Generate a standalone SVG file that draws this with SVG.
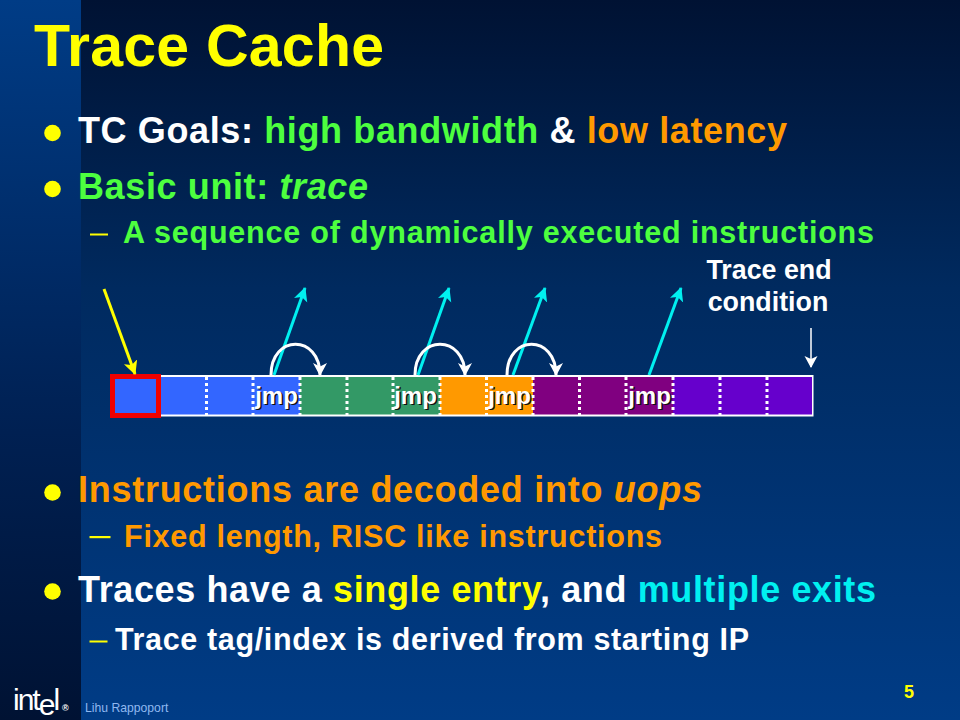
<svg xmlns="http://www.w3.org/2000/svg" width="960" height="720" viewBox="0 0 960 720">
<style>
text{font-family:"Liberation Sans",Arial,sans-serif;font-weight:bold}
.w{fill:#fff}.g{fill:#4dff3f}.o{fill:#ff9900}.y{fill:#ffff00}.c{fill:#00f0f0}
.l1{font-size:36px}.l2{font-size:30.500px}
.j{font-size:24px;fill:#fff;text-anchor:middle}
.js{font-size:24px;fill:#111;text-anchor:middle}
.sep{stroke:#fff;stroke-width:3;stroke-dasharray:3 3}
.cy{stroke:#00f0f0;stroke-width:3;fill:none;marker-end:url(#ca)}
.arc{stroke:#fff;stroke-width:3;fill:none;marker-end:url(#wa)}
</style>
<defs>
<linearGradient id="bg" x1="0" y1="0" x2="0" y2="1"><stop offset="0" stop-color="#001233"/><stop offset="0.4" stop-color="#002a5f"/><stop offset="1" stop-color="#003c86"/></linearGradient>
<linearGradient id="bl" x1="0" y1="0" x2="0" y2="1"><stop offset="0" stop-color="#003c86"/><stop offset="0.6" stop-color="#002052"/><stop offset="1" stop-color="#001233"/></linearGradient>
<marker id="ca" markerUnits="userSpaceOnUse" markerWidth="18" markerHeight="18" refX="13" refY="7" orient="auto"><path d="M0 0L14 7L0 14L3.500 7Z" fill="#00f0f0"/></marker>
<marker id="wa" markerUnits="userSpaceOnUse" markerWidth="18" markerHeight="18" refX="12" refY="7" orient="auto"><path d="M0 0L13 7L0 14L3.500 7Z" fill="#fff"/></marker>
<marker id="ya" markerUnits="userSpaceOnUse" markerWidth="18" markerHeight="18" refX="13" refY="7" orient="auto"><path d="M0 0L14 7L0 14L3.500 7Z" fill="#ffff00"/></marker>
<marker id="ta" markerUnits="userSpaceOnUse" markerWidth="18" markerHeight="18" refX="11" refY="6.500" orient="auto"><path d="M0 0L12 6.500L0 13L3 6.500Z" fill="#fff"/></marker>
</defs>
<rect width="960" height="720" fill="url(#bg)"/>
<rect width="81" height="720" fill="url(#bl)"/>

<text x="34" y="66" font-size="59" class="y" textLength="350">Trace Cache</text>

<g id="bullets" class="y">
<circle cx="52.500" cy="133" r="8.300"/><circle cx="52.500" cy="189" r="8.300"/><circle cx="52.500" cy="492.500" r="8.300"/><circle cx="52.500" cy="591.500" r="8.300"/>
<rect x="90" y="233.500" width="18" height="2"/><rect x="89.500" y="536" width="21" height="2.200"/><rect x="89.500" y="640.500" width="18" height="2"/>
</g>

<text x="78" y="143" class="l1 w" textLength="709">TC Goals: <tspan class="g">high bandwidth</tspan> &amp; <tspan class="o">low latency</tspan></text>
<text x="78" y="199" class="l1 g" textLength="290">Basic unit: <tspan font-style="italic">trace</tspan></text>
<text x="123" y="243" class="l2 g" textLength="751">A sequence of dynamically executed instructions</text>
<text x="78" y="502" class="l1 o" textLength="624">Instructions are decoded into <tspan font-style="italic">uops</tspan></text>
<text x="124" y="547" class="l2 o" textLength="538">Fixed length, RISC like instructions</text>
<text x="78" y="602" class="l1 w" textLength="798">Traces have a <tspan class="y">single entry</tspan>, and <tspan class="c">multiple exits</tspan></text>
<text x="115" y="650" class="l2 w" textLength="634">Trace tag/index is derived from starting IP</text>

<g id="trace-end-label">
<text x="769" y="279" font-size="26.800" class="w" text-anchor="middle">Trace end</text>
<text x="768" y="311" font-size="26.800" class="w" text-anchor="middle">condition</text>
</g>

<g id="trace-bar">
<rect x="113" y="375" width="700.500" height="41.500" fill="#fff"/>
<rect x="114" y="377" width="186" height="37.500" fill="#3366ff"/>
<rect x="300" y="377" width="140" height="37.500" fill="#339966"/>
<rect x="440" y="377" width="93" height="37.500" fill="#ff9900"/>
<rect x="533" y="377" width="140" height="37.500" fill="#800080"/>
<rect x="673" y="377" width="139" height="37.500" fill="#6600cc"/>
<path class="sep" d="M206.500 377V415M253 377V415M300 377V415M347 377V415M393 377V415M440 377V415M486.500 377V415M533 377V415M579.500 377V415M626 377V415M673 377V415M720 377V415M767 377V415"/>
</g>
<rect id="entry-cell" x="112.500" y="376.500" width="46" height="39" fill="#3366ff" stroke="#f00000" stroke-width="5"/>

<g id="jmp-labels">
<text x="278" y="405" class="js">jmp</text><text x="276.500" y="403.500" class="j">jmp</text>
<text x="417" y="405" class="js">jmp</text><text x="415.500" y="403.500" class="j">jmp</text>
<text x="511" y="405" class="js">jmp</text><text x="509.500" y="403.500" class="j">jmp</text>
<text x="651" y="405" class="js">jmp</text><text x="649.500" y="403.500" class="j">jmp</text>
</g>

<g id="connectors">
<path d="M104 289L135 374" stroke="#ffff00" stroke-width="3" fill="none" marker-end="url(#ya)"/>
<path class="cy" d="M274 375L305 288"/>
<path class="cy" d="M418 375L449 288"/>
<path class="cy" d="M513 375L545 288"/>
<path class="cy" d="M649 375L681 288"/>
<path class="arc" d="M271 375C271 334 320 334 320 375"/>
<path class="arc" d="M415 375C415 334 465 334 465 375"/>
<path class="arc" d="M507 375C507 334 556 334 556 375"/>
<path d="M811 328V367" stroke="#fff" stroke-width="1.500" fill="none" marker-end="url(#ta)"/>
</g>

<g id="footer">
<text x="13" y="710" font-size="30" class="w" letter-spacing="-2" style="font-weight:normal">int<tspan dy="5">e</tspan><tspan dy="-5">l</tspan></text>
<text x="62" y="711" font-size="9" class="w">®</text>
<text x="85" y="712" font-size="12.200" fill="#8fb8f0" style="font-weight:normal">Lihu Rappoport</text>
<text x="904" y="698" font-size="18" class="y">5</text>
</g>
</svg>
